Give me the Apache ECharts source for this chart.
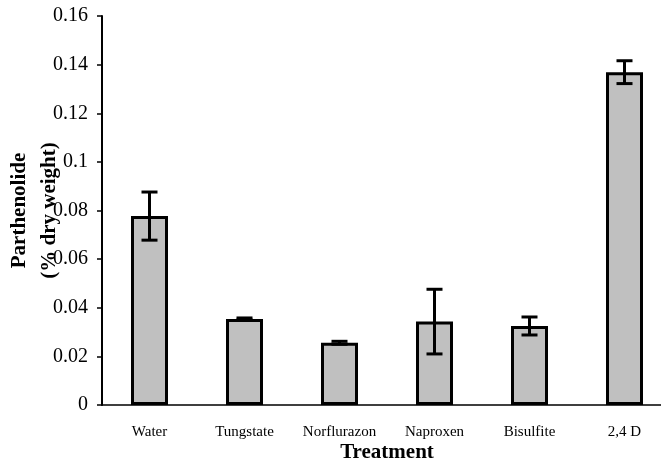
<!DOCTYPE html>
<html>
<head>
<meta charset="utf-8">
<script src="https://cdn.jsdelivr.net/npm/echarts@6/dist/echarts.min.js"></script>
<style>
  html, body { margin: 0; padding: 0; background: #fff; }
</style>
</head>
<body>
<div id="main" style="width:661px;height:462px;"></div>
<script>
var categories = ["Water", "Tungstate", "Norflurazon", "Naproxen", "Bisulfite", "2,4 D"];
var means = [0.0777, 0.0354, 0.0256, 0.0343, 0.0325, 0.1369];
var errors = [0.0099, 0.0004, 0.0006, 0.0133, 0.0037, 0.0047];

var serif = "Liberation Serif";

var errData = [];
for (var i = 0; i < categories.length; i++) {
  errData.push([i, means[i], errors[i]]);
}

var chart = echarts.init(document.getElementById("main"));
chart.setOption({
  animation: false,
  textStyle: { fontFamily: serif, color: "#000" },
  grid: { left: 102, top: 16, bottom: 57, right: -11, containLabel: false, outerBoundsMode: "none" },
  xAxis: {
    type: "category",
    data: categories,
    name: "Treatment",
    nameLocation: "middle",
    nameGap: 37,
    nameMoveOverlap: false,
    nameTextStyle: { fontFamily: serif, fontSize: 21, fontWeight: "bold", color: "#000" },
    axisLine: { lineStyle: { color: "#000", width: 1.5 } },
    axisTick: { length: 5, lineStyle: { color: "#000", width: 1.5 } },
    axisLabel: { fontFamily: serif, fontSize: 15, color: "#000", margin: 20, interval: 0 },
    splitLine: { show: false }
  },
  yAxis: {
    type: "value",
    min: 0,
    max: 0.16,
    interval: 0.02,
    name: "Parthenolide\n(% dry weight)",
    nameLocation: "middle",
    nameRotate: 90,
    nameGap: 38,
    nameMoveOverlap: false,
    nameTextStyle: { fontFamily: serif, fontSize: 21, fontWeight: "bold", color: "#000", lineHeight: 29.5 },
    axisLine: { show: true, lineStyle: { color: "#000", width: 2 } },
    axisTick: { show: true, length: 5, lineStyle: { color: "#000", width: 1.5 } },
    axisLabel: { fontFamily: serif, fontSize: 20, color: "#000", margin: 14 },
    splitLine: { show: false }
  },
  series: [
    {
      type: "bar",
      data: means,
      barWidth: 37,
      itemStyle: { color: "#c0c0c0", borderColor: "#000", borderWidth: 3 }
    },
    {
      type: "custom",
      data: errData,
      encode: { x: 0, y: 1 },
      z: 10,
      renderItem: function (params, api) {
        var x = api.value(0);
        var m = api.value(1);
        var e = api.value(2);
        var top = api.coord([x, m + e]);
        var bot = api.coord([x, m - e]);
        var hw = 8;
        var style = { stroke: "#000", lineWidth: 3 };
        return {
          type: "group",
          children: [
            { type: "line", shape: { x1: top[0], y1: top[1], x2: bot[0], y2: bot[1] }, style: style },
            { type: "line", shape: { x1: top[0] - hw, y1: top[1], x2: top[0] + hw, y2: top[1] }, style: style },
            { type: "line", shape: { x1: bot[0] - hw, y1: bot[1], x2: bot[0] + hw, y2: bot[1] }, style: style }
          ]
        };
      }
    }
  ]
});
</script>
</body>
</html>
